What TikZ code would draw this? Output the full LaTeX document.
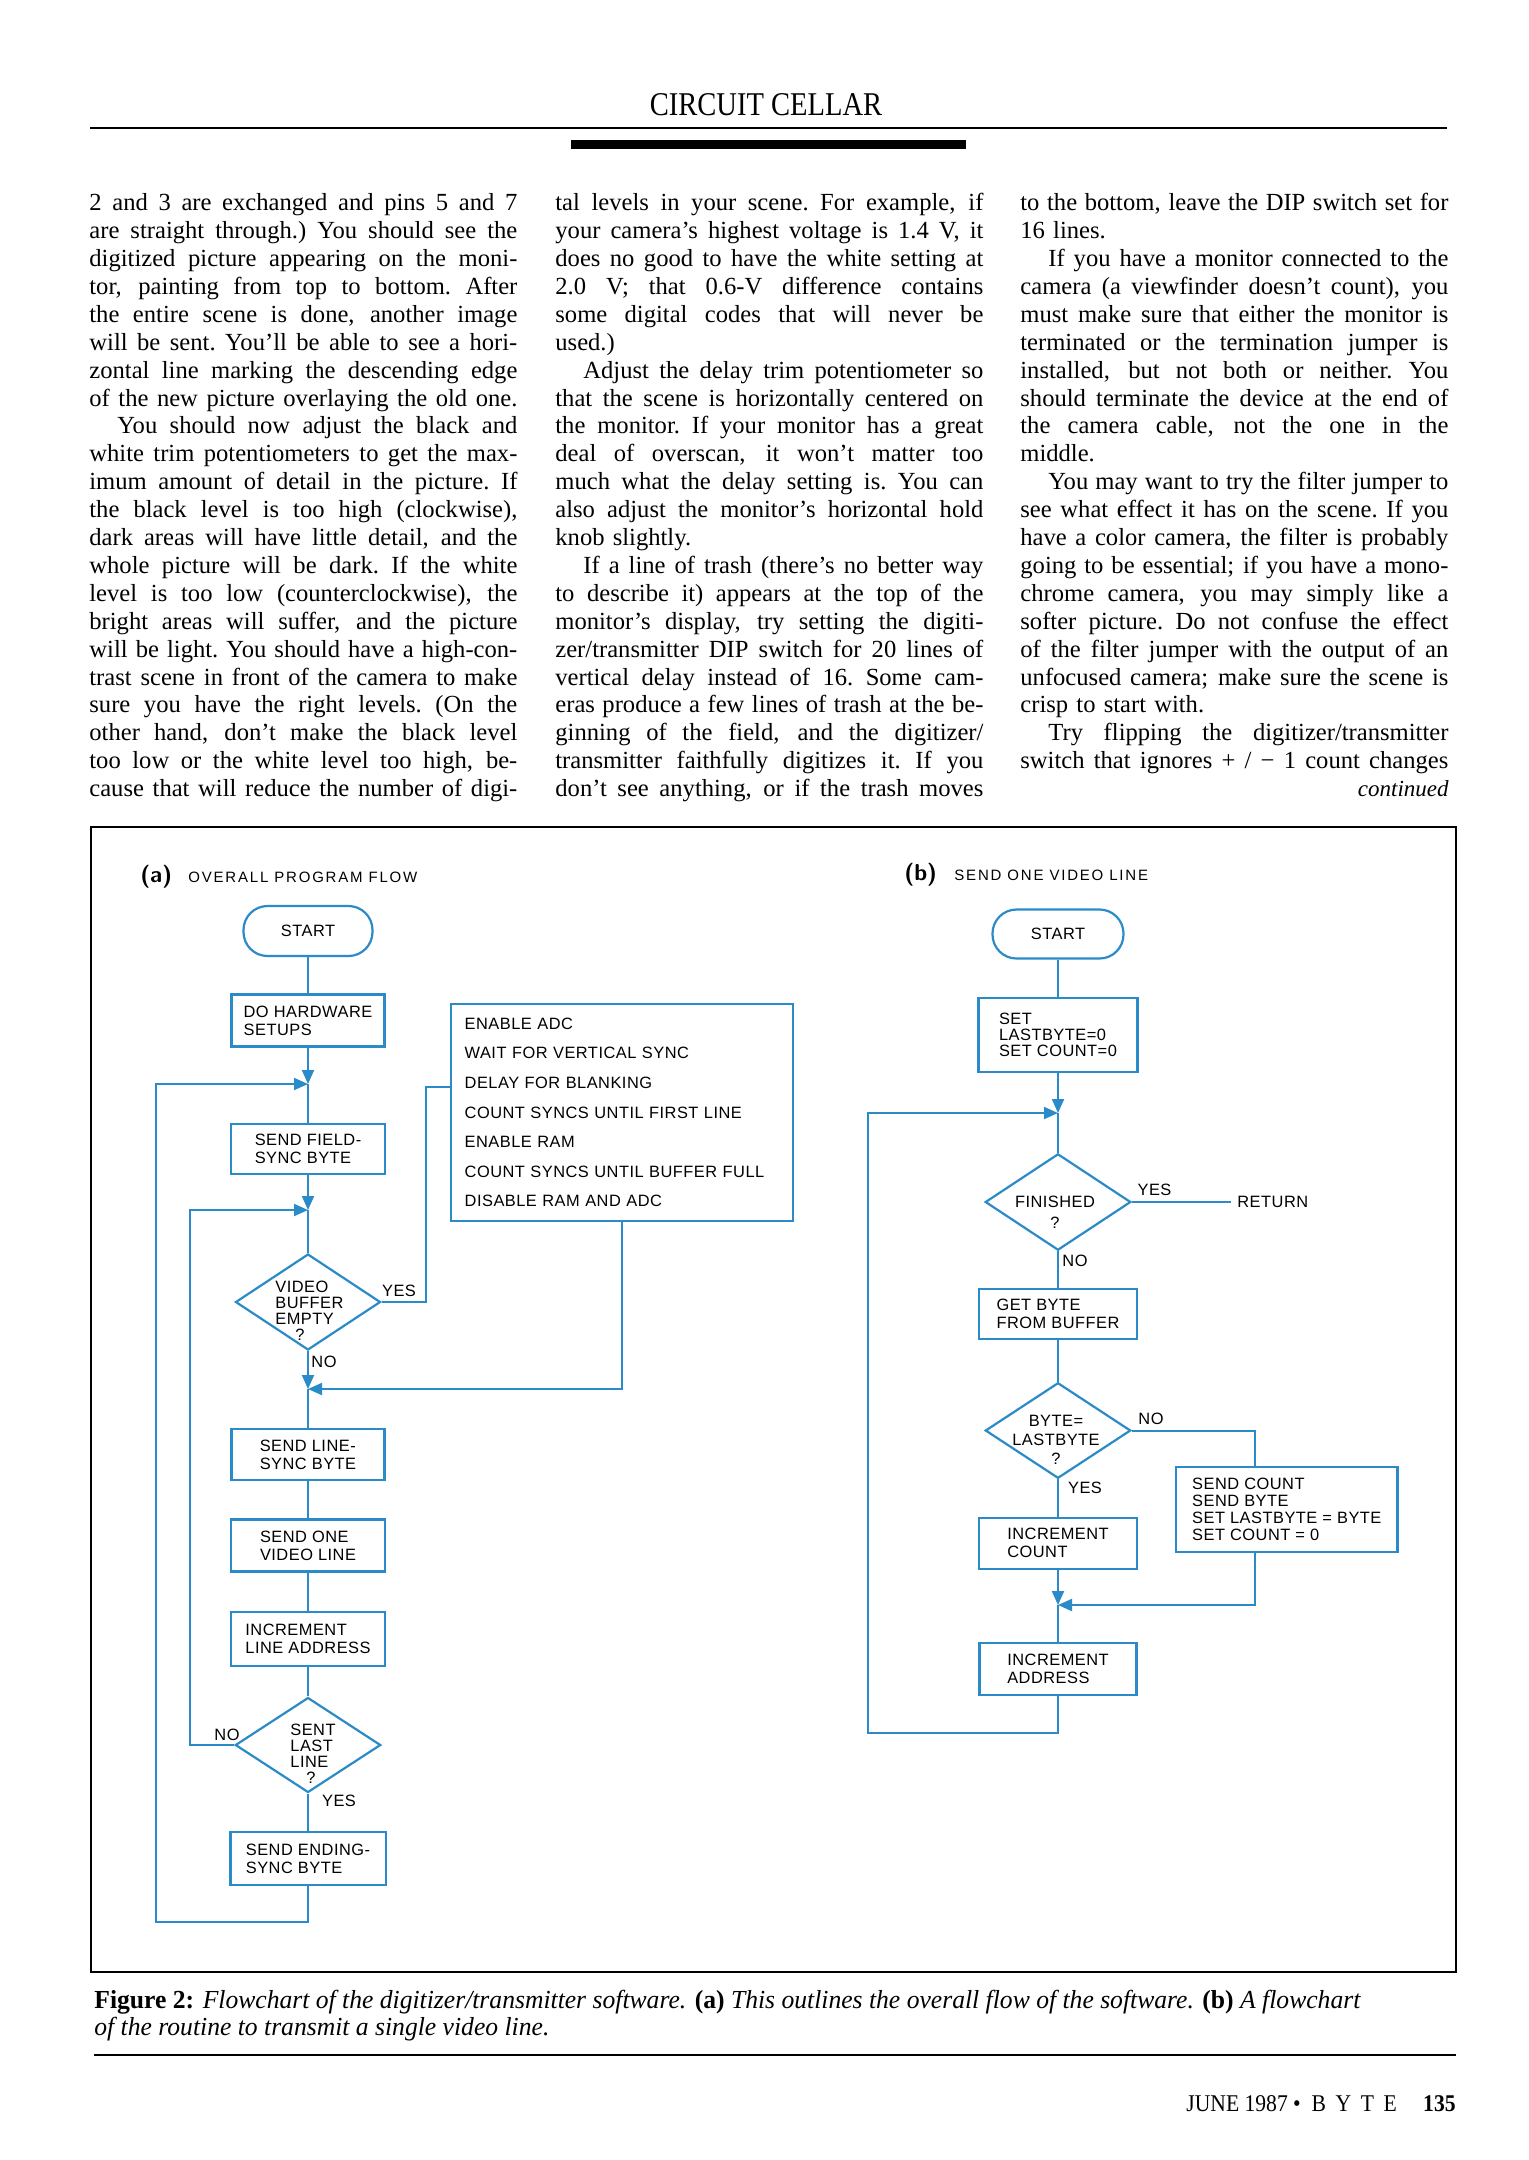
\documentclass[tikz,border=0pt]{standalone}
\usepackage{fontspec}
\setmainfont{Liberation Serif}
\newfontfamily\hdfont[FakeStretch=0.86]{Liberation Serif}
\newfontfamily\capfont[FakeStretch=0.985]{Liberation Serif}
\newfontfamily\footfont[FakeStretch=0.9]{Liberation Serif}
\newfontfamily\chartfont[LetterSpace=3]{Liberation Sans}
\newfontfamily\headfont[LetterSpace=12]{Liberation Sans}
\usepackage{graphicx}
\usepackage{xcolor}
\definecolor{fblue}{HTML}{2A8BC8}
\usepackage{tikz}
\usetikzlibrary{arrows.meta,shapes.geometric}
% one justified line of a column (squeezed if it runs long)
\newlength\colw \setlength\colw{214pt}
\newlength\lnw
\newsavebox\lnbox
\newcommand\jl[2][0pt]{\hspace*{#1}{\spaceskip=.25em plus 1em minus .05em\relax\xspaceskip=\spaceskip
  \setlength\lnw{\dimexpr\colw-#1\relax}\sbox\lnbox{#2}%
  \ifdim\wd\lnbox>\lnw\resizebox{\lnw}{\height}{#2}\else\hbox to\lnw{#2}\fi}}
\tikzset{>={Triangle[length=7pt,width=6pt]},
  column/.style={anchor=base west,inner sep=0pt,text width=\colw,align=left,
    font=\fontsize{12.3}{13.95}\selectfont},
  fbox/.style={draw=fblue,line width=1.1pt,align=left,inner sep=2pt,
    font=\chartfont\fontsize{8.2}{9}\selectfont},
  term/.style={fbox,rounded corners=12pt,align=center},
  dec/.style={fbox,diamond,aspect=1.5,inner sep=0pt},
  dectext/.style={align=left,inner sep=0pt,font=\chartfont\fontsize{8.2}{8}\selectfont},
  flow/.style={draw=fblue,line width=1pt},
  flowa/.style={flow,-{Triangle[length=7pt,width=6pt]}},
  lbl/.style={font=\chartfont\fontsize{8.2}{9}\selectfont,inner sep=1pt}}

\begin{document}
\begin{tikzpicture}[x=0.5pt,y=-0.5pt]
  \useasboundingbox[fill=white] (0,0) rectangle (1529,2160);

  % page head
  \node[font=\hdfont\fontsize{16.6}{18}\selectfont,anchor=base] (head) at (766,115.7) {CIRCUIT CELLAR};
  \draw[line width=1.1pt] (90,128) -- (1447,128);
  \fill (571,140) rectangle (966,149);

  % the three text columns
  \node[column] (col1) at (89,210.7) {%
\jl{2 and 3 are exchanged and pins 5 and 7}\\
\jl{are straight through.) You should see the}\\
\jl{digitized picture appearing on the moni-}\\
\jl{tor, painting from top to bottom. After}\\
\jl{the entire scene is done, another image}\\
\jl{will be sent. You'll be able to see a hori-}\\
\jl{zontal line marking the descending edge}\\
\jl{of the new picture overlaying the old one.}\\
\jl[14pt]{You should now adjust the black and}\\
\jl{white trim potentiometers to get the max-}\\
\jl{imum amount of detail in the picture. If}\\
\jl{the black level is too high (clockwise),}\\
\jl{dark areas will have little detail, and the}\\
\jl{whole picture will be dark. If the white}\\
\jl{level is too low (counterclockwise), the}\\
\jl{bright areas will suffer, and the picture}\\
\jl{will be light. You should have a high-con-}\\
\jl{trast scene in front of the camera to make}\\
\jl{sure you have the right levels. (On the}\\
\jl{other hand, don't make the black level}\\
\jl{too low or the white level too high, be-}\\
\jl{cause that will reduce the number of digi-}};
  \node[column] (col2) at (555,210.7) {%
\jl{tal levels in your scene. For example, if}\\
\jl{your camera's highest voltage is 1.4 V, it}\\
\jl{does no good to have the white setting at}\\
\jl{2.0 V; that 0.6-V difference contains}\\
\jl{some digital codes that will never be}\\
used.)\\
\jl[14pt]{Adjust the delay trim potentiometer so}\\
\jl{that the scene is horizontally centered on}\\
\jl{the monitor. If your monitor has a great}\\
\jl{deal of overscan, it won't matter too}\\
\jl{much what the delay setting is. You can}\\
\jl{also adjust the monitor's horizontal hold}\\
knob slightly.\\
\jl[14pt]{If a line of trash (there's no better way}\\
\jl{to describe it) appears at the top of the}\\
\jl{monitor's display, try setting the digiti-}\\
\jl{zer/transmitter DIP switch for 20 lines of}\\
\jl{vertical delay instead of 16. Some cam-}\\
\jl{eras produce a few lines of trash at the be-}\\
\jl{ginning of the field, and the digitizer/}\\
\jl{transmitter faithfully digitizes it. If you}\\
\jl{don't see anything, or if the trash moves}};
  \node[column] (col3) at (1020,210.7) {%
\jl{to the bottom, leave the DIP switch set for}\\
16 lines.\\
\jl[14pt]{If you have a monitor connected to the}\\
\jl{camera (a viewfinder doesn't count), you}\\
\jl{must make sure that either the monitor is}\\
\jl{terminated or the termination jumper is}\\
\jl{installed, but not both or neither. You}\\
\jl{should terminate the device at the end of}\\
\jl{the camera cable, not the one in the}\\
middle.\\
\jl[14pt]{You may want to try the filter jumper to}\\
\jl{see what effect it has on the scene. If you}\\
\jl{have a color camera, the filter is probably}\\
\jl{going to be essential; if you have a mono-}\\
\jl{chrome camera, you may simply like a}\\
\jl{softer picture. Do not confuse the effect}\\
\jl{of the filter jumper with the output of an}\\
\jl{unfocused camera; make sure the scene is}\\
crisp to start with.\\
\jl[14pt]{Try flipping the digitizer/transmitter}\\
\jl{switch that ignores + / − 1 count changes}};
  \node[anchor=base east,inner sep=0pt,font=\fontsize{11.5}{13}\selectfont\itshape] (cont) at (1449,796.7) {continued};

  % figure frame
  \draw[line width=1pt] (91,827) rectangle (1456,1972);

  % (a) overall program flow
  \node[font=\sffamily\bfseries\fontsize{11.5}{12}\selectfont,anchor=west,inner sep=0pt] (tagA) at (140,877) {(a)};
  \node[font=\headfont\fontsize{7.5}{9}\selectfont,anchor=west,inner sep=0pt] (titleA) at (188,877) {OVERALL PROGRAM FLOW};
  \node[term,minimum width=64.5pt,minimum height=25pt] (startA) at (308,931) {START};
  \node[fbox,minimum width=76.5pt,minimum height=26pt] (hw) at (308,1020.5) {DO HARDWARE\\SETUPS};
  \coordinate (j1) at (308,1084);
  \node[fbox,minimum width=77pt,minimum height=25pt] (fsync) at (308,1149) {SEND FIELD-\\SYNC BYTE};
  \coordinate (j2) at (308,1210);
  \node[dec,minimum width=72.5pt,minimum height=48pt] (vbuf) at (308,1302) {};
  \node[dectext,anchor=west] (vbuft) at (275,1311) {VIDEO\\BUFFER\\EMPTY\\\hspace*{10pt}?};
  \coordinate (j3) at (308,1389);
  \node[fbox,minimum width=76.5pt,minimum height=25.5pt] (lsync) at (308,1454.4) {SEND LINE-\\SYNC BYTE};
  \node[fbox,minimum width=77pt,minimum height=26pt] (oneline) at (308,1545.4) {SEND ONE\\VIDEO LINE};
  \node[fbox,minimum width=77pt,minimum height=26.8pt] (incla) at (308,1638.8) {INCREMENT\\LINE ADDRESS};
  \node[dec,minimum width=72.7pt,minimum height=47.5pt] (lastl) at (308,1745) {};
  \node[dectext,anchor=west] (lastlt) at (290,1753.5) {SENT\\LAST\\LINE\\\hspace*{8pt}?};
  \node[fbox,minimum width=77.6pt,minimum height=26.5pt] (esync) at (308,1858.5) {SEND ENDING-\\SYNC BYTE};
  \node[fbox,minimum width=171pt,minimum height=108.5pt,text width=157pt,font=\chartfont\fontsize{8.2}{14.8}\selectfont] (field) at (621.7,1112.5)
    {ENABLE ADC\\WAIT FOR VERTICAL SYNC\\DELAY FOR BLANKING\\COUNT SYNCS UNTIL FIRST LINE\\ENABLE RAM\\COUNT SYNCS UNTIL BUFFER FULL\\DISABLE RAM AND ADC};
  \coordinate (yesA) at (426,1087);
  \coordinate (loopin) at (190,1210);
  \coordinate (loopout) at (156,1084);
  \coordinate (loopbot) at (156,1922);

  \draw[flow] (startA) -- (hw);
  \draw[flowa] (hw) -- (j1);
  \draw[flow] (j1) -- (fsync);
  \draw[flowa] (fsync) -- (j2);
  \draw[flow] (j2) -- (vbuf);
  \draw[flow] (vbuf.east) -| (yesA) -- (yesA -| field.west);
  \draw[flowa] (vbuf.south) -- (j3);
  \draw[flowa] (field.south) |- (j3);
  \draw[flow] (j3) -- (lsync);
  \draw[flow] (lsync) -- (oneline);
  \draw[flow] (oneline) -- (incla);
  \draw[flow] (incla) -- (lastl);
  \draw[flow] (lastl.south) -- (esync);
  \draw[flowa] (lastl.west) -| (loopin) -- (j2);
  \draw[flowa] (esync.south) |- (loopbot) -- (loopout) -- (j1);
  \node[lbl] (yA1) at (399,1291) {YES};
  \node[lbl] (nA1) at (324,1362) {NO};
  \node[lbl] (nA2) at (227,1735) {NO};
  \node[lbl] (yA2) at (339,1801) {YES};

  % (b) send one video line
  \node[font=\sffamily\bfseries\fontsize{11.5}{12}\selectfont,anchor=west,inner sep=0pt] (tagB) at (904,875) {(b)};
  \node[font=\headfont\fontsize{7.5}{9}\selectfont,anchor=west,inner sep=0pt] (titleB) at (954,875) {SEND ONE VIDEO LINE};
  \node[term,minimum width=65.5pt,minimum height=24.5pt] (startB) at (1058,934) {START};
  \node[fbox,minimum width=79.5pt,minimum height=37.3pt,font=\chartfont\fontsize{8.2}{8}\selectfont] (init) at (1058,1035) {SET\\LASTBYTE=0\\SET COUNT=0};
  \coordinate (k1) at (1058,1113);
  \node[dec,minimum width=72.8pt,minimum height=48.2pt] (fin) at (1058,1202) {};
  \node[dectext,align=center,font=\chartfont\fontsize{8.2}{10.5}\selectfont] (fint) at (1055,1212) {FINISHED\\?};
  \node[lbl,anchor=west,inner sep=3pt] (ret) at (1231,1202) {RETURN};
  \node[fbox,minimum width=78.7pt,minimum height=25.2pt] (getb) at (1058,1314) {GET BYTE\\FROM BUFFER};
  \node[dec,minimum width=72.7pt,minimum height=47.8pt] (same) at (1058,1430.5) {};
  \node[dectext,align=center,font=\chartfont\fontsize{8.2}{9.5}\selectfont] (samet) at (1056,1440) {BYTE=\\LASTBYTE\\?};
  \node[fbox,minimum width=110.7pt,minimum height=42.5pt,font=\chartfont\fontsize{8.2}{8.6}\selectfont] (sendc) at (1286.8,1509.2)
    {SEND COUNT\\SEND BYTE\\SET LASTBYTE = BYTE\\SET COUNT = 0};
  \node[fbox,minimum width=79pt,minimum height=25.6pt] (incc) at (1058,1543.3) {INCREMENT\\COUNT};
  \coordinate (k2) at (1058,1605);
  \node[fbox,minimum width=78.5pt,minimum height=26.2pt] (incad) at (1058,1669) {INCREMENT\\ADDRESS};
  \coordinate (noB) at (1255,1430.5);
  \coordinate (bloopbot) at (868,1733);
  \coordinate (bloopin) at (868,1113);

  \draw[flow] (startB) -- (init);
  \draw[flowa] (init) -- (k1);
  \draw[flow] (k1) -- (fin);
  \draw[flow] (fin.east) -- (ret.west);
  \draw[flow] (fin.south) -- (getb);
  \draw[flow] (getb) -- (same);
  \draw[flow] (same.south) -- (incc);
  \draw[flow] (same.east) -- (noB) -- (noB |- sendc.north);
  \draw[flowa] (noB |- sendc.south) |- (k2);
  \draw[flowa] (incc) -- (k2);
  \draw[flow] (k2) -- (incad);
  \draw[flowa] (incad.south) |- (bloopbot) -- (bloopin) -- (k1);
  \node[lbl] (yB1) at (1154.5,1190) {YES};
  \node[lbl] (nB1) at (1075,1261) {NO};
  \node[lbl] (nB2) at (1151,1419) {NO};
  \node[lbl] (yB2) at (1085,1488) {YES};

  % caption and foot
  \node[anchor=base west,inner sep=0pt,font=\capfont\fontsize{13}{14}\selectfont] (cap1) at (94,2008)
    {\textbf{Figure 2:} \textit{Flowchart of the digitizer/transmitter software.} \textbf{(a)} \textit{This outlines the overall flow of the software.} \textbf{(b)} \textit{A flowchart}};
  \node[anchor=base west,inner sep=0pt,font=\capfont\fontsize{13}{14}\selectfont\itshape] (cap2) at (94,2035)
    {of the routine to transmit a single video line.};
  \draw[line width=1pt] (94,2055) -- (1456,2055);
  \node[anchor=base east,inner sep=0pt,font=\footfont\fontsize{12}{13}\selectfont] (foot) at (1456,2111.7)
    {JUNE 1987 \textbullet\hspace{.45em}B\hspace{.4em}Y\hspace{.4em}T\hspace{.4em}E\hspace{1.1em}\textbf{135}};
\end{tikzpicture}
\end{document}
